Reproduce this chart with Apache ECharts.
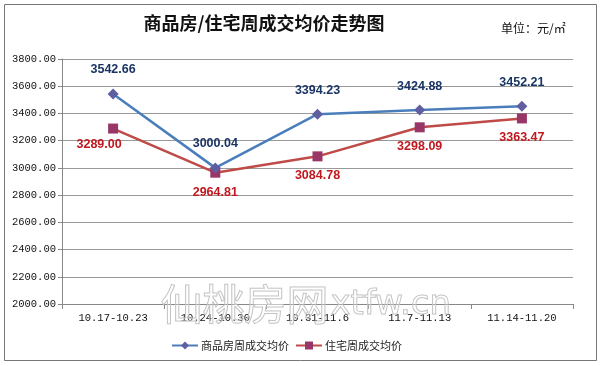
<!DOCTYPE html>
<html><head><meta charset="utf-8">
<script src="https://cdn.jsdelivr.net/npm/echarts@6/dist/echarts.min.js"></script>
<style>html,body{margin:0;padding:0;background:#fff}#c{width:600px;height:366px}</style>
</head><body><div id="c"></div>
<script>
var categories = ['10.17-10.23','10.24-10.30','10.31-11.6','11.7-11.13','11.14-11.20'];
var commercialPrice = [3542.66, 3000.04, 3394.23, 3424.88, 3452.21];
var residentialPrice = [3289.00, 2964.81, 3084.78, 3298.09, 3363.47];
var seriesNames = ['商品房周成交均价','住宅周成交均价'];
var titleText = '商品房/住宅周成交均价走势图';
var unitText = '单位：元/㎡';

var chart = echarts.init(document.getElementById('c'), null, {renderer:'canvas'});
var cjk = '"Noto Sans CJK SC", sans-serif';
var mono = '"Liberation Mono", "DejaVu Sans Mono", monospace';

chart.setOption({
  backgroundColor: '#fff',
  animation: false,
  title: [
    {text: titleText, left: 259, top: 9, textAlign: 'center',
     textStyle: {fontFamily: cjk, fontSize: 18, fontWeight: 'bold', color: '#111'}},
    {text: unitText, left: 496, top: 17,
     textStyle: {fontFamily: cjk, fontSize: 12, fontWeight: 'normal', color: '#111'}}
  ],
  graphic: [
    {type: 'rect', shape: {x: 4.5, y: 4.5, width: 592, height: 356}, style: {fill: 'none', stroke: '#777', lineWidth: 1}, z: 0},
    {type: 'text', left: 160, top: 283, z: 1, style: {text: '仙桃房网', font: '42px "Noto Sans CJK SC"', fill: 'rgba(255,255,255,0.2)', stroke: '#bdbdbd', lineWidth: 1}},
    {type: 'text', left: 330, top: 288, z: 1, style: {text: 'xtfw.cn', font: '34px "DejaVu Sans"', fill: 'rgba(255,255,255,0.2)', stroke: '#bdbdbd', lineWidth: 1}}
  ],
  legend: {
    bottom: 10, left: 166, itemWidth: 26, itemHeight: 10, itemGap: 6,
    textStyle: {fontFamily: cjk, fontSize: 11, color: '#222', padding: [0, 0, 0, -2]},
    data: seriesNames
  },
  grid: {left: 62, right: 27, top: 59, bottom: 62},
  xAxis: {
    type: 'category', data: categories, boundaryGap: true,
    axisLine: {lineStyle: {color: '#888'}},
    axisTick: {show: true, length: 5, lineStyle: {color: '#888'}},
    axisLabel: {fontFamily: mono, fontSize: 10.5, color: '#111', margin: 9},
    splitLine: {show: false}
  },
  yAxis: {
    type: 'value', min: 2000, max: 3800, interval: 200,
    axisLine: {show: true, lineStyle: {color: '#888'}},
    axisTick: {show: true, length: 4, lineStyle: {color: '#888'}},
    axisLabel: {fontFamily: mono, fontSize: 10.5, color: '#111', margin: 6,
      formatter: function(v){ return v.toFixed(2); }},
    splitLine: {lineStyle: {color: '#999', width: 1}}
  },
  series: [
    {
      name: seriesNames[0], type: 'line', data: commercialPrice,
      symbol: 'diamond', symbolSize: 11,
      lineStyle: {color: '#4A7EBB', width: 2.5},
      itemStyle: {color: '#5E5EA0'},
      label: {show: true, position: 'top', distance: 12,
        formatter: function(p){ return p.value.toFixed(2); },
        fontFamily: 'Liberation Sans, Arial', fontWeight: 'bold', fontSize: 12.5, color: '#1A3565'},
      z: 3
    },
    {
      name: seriesNames[1], type: 'line', data: residentialPrice.map(function(v,i){
        return i === 0 ? {value: v, label: {offset: [-14, -4]}} : v;
      }),
      symbol: 'rect', symbolSize: 10,
      lineStyle: {color: '#BE4B48', width: 2.5},
      itemStyle: {color: '#983767'},
      label: {show: true, position: 'bottom', distance: 8,
        formatter: function(p){ return p.value.toFixed(2); },
        fontFamily: 'Liberation Sans, Arial', fontWeight: 'bold', fontSize: 12.5, color: '#C0181E'},
      z: 2
    }
  ]
});
</script></body></html>
